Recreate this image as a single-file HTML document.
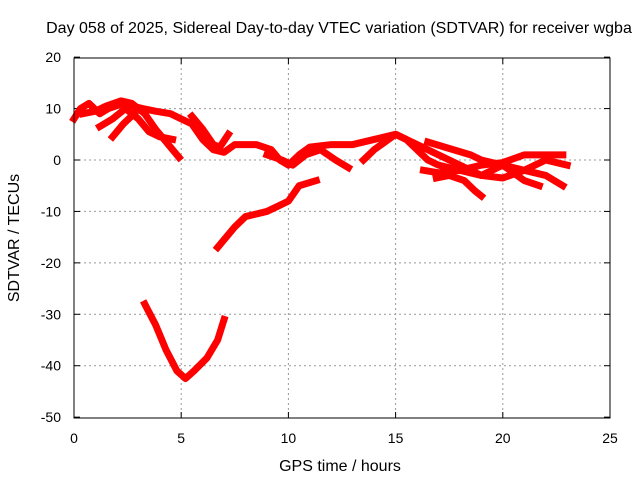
<!DOCTYPE html>
<html><head><meta charset="utf-8"><style>
body{margin:0;background:#fff;font-family:"Liberation Sans",sans-serif;}
svg text{font-family:"Liberation Sans",sans-serif;font-size:14px;fill:#000;}
svg text.big{font-size:16px;}
</style></head><body>
<svg id="c" width="640" height="480">
<text class="big" x="339" y="33" text-anchor="middle">Day 058 of 2025, Sidereal Day-to-day VTEC variation (SDTVAR) for receiver wgba</text>
<text class="big" x="340" y="471" text-anchor="middle">GPS time / hours</text>
<text class="big" transform="translate(19,238) rotate(-90)" text-anchor="middle">SDTVAR / TECUs</text>
<g id="grid"></g><g id="ticks"></g><g id="marks"></g>
<rect x="74" y="58" width="536" height="360" fill="none" stroke="#000" stroke-width="1"/>
</svg>
<script>
const xTicks=[0,5,10,15,20,25];
const yTicks=[20,10,0,-10,-20,-30,-40,-50];
const trackA=[[0,8],[0.3,10],[0.7,11],[1.2,9],[1.6,10],[2.3,11],[2.7,10.5],[3.2,10],[3.8,9.5],[4.5,9],[5,8],[5.5,7],[6,4],[6.5,2],[7,1.5],[7.5,3],[8.5,3],[9.2,2],[9.6,0],[10,-1],[10.5,1],[11,2.5],[12,3],[13,3],[14,4],[15,5],[15.5,4],[16,2],[16.5,0],[17,-1],[18,-2],[19,-3],[20,-1],[21,-2],[22,0],[23,-1]];
const trackB=[[0.4,9],[1,9.5],[1.5,10.5],[2.2,11.5],[2.7,11],[3.3,9],[3.8,6],[4.2,4],[4.6,2],[4.9,0.5]];
const trackC=[[1.2,6.5],[1.8,8],[2.4,10],[3,8],[3.5,5.5],[4,4.5],[4.6,4]];
const trackD=[[1.8,4.5],[2.3,7],[2.8,9]];
const trackE=[[5.5,8.5],[6,6],[6.5,3],[6.8,2.5],[7.2,5]];
const trackF=[[9,1],[9.7,0],[10.2,-1],[10.8,1],[11.5,2],[12.2,0],[12.8,-1.5]];
const trackG=[[13.5,0],[14,2],[14.5,3.5],[15,5],[16,3],[17,1],[18,-1],[19,-3],[20,-3.5],[21,-2],[22,-3],[22.8,-5]];
const trackH=[[16.3,-2],[17,-2.5],[18,-2],[19,-1],[20,-0.5],[21,1],[22,1],[22.8,1]];
const trackI=[[16.5,3.5],[17.7,2],[18.5,1],[19,0],[20,-1],[21,-4],[21.7,-5]];
const trackJ=[[16.9,-3.5],[17.5,-3],[18.2,-4],[18.7,-6],[19,-7]];
const trackK=[[6.7,-17],[7.5,-13],[8,-11],[9,-10],[9.5,-9],[10,-8],[10.5,-5],[11.3,-4]];
const trackL=[[3.3,-28],[3.8,-32],[4.3,-37],[4.8,-41],[5.2,-42.5],[5.6,-41],[6.2,-38.5],[6.7,-35],[7,-31]];
const tracks=[trackA,trackB,trackC,trackD,trackE,trackF,trackG,trackH,trackI,trackJ,trackK,trackL];
const X=v=>74+v*536/25, Y=v=>160-v*360/70;
const NS='http://www.w3.org/2000/svg';
const grid=document.getElementById('grid'),ticks=document.getElementById('ticks'),marks=document.getElementById('marks');
function mk(t,a,p){const e=document.createElementNS(NS,t);for(const k in a)e.setAttribute(k,a[k]);p.appendChild(e);return e;}
xTicks.forEach(t=>{
 if(t>0&&t<25){const g=mk('line',{x1:X(t),x2:X(t),y1:58,y2:418,stroke:'#999','stroke-dasharray':'2,3'},grid);
 
 }
 mk('line',{x1:X(t),x2:X(t),y1:418,y2:412,stroke:'#000'},ticks);
 mk('line',{x1:X(t),x2:X(t),y1:58,y2:64,stroke:'#000'},ticks);
 const l=mk('text',{x:X(t),y:443,'text-anchor':'middle'},ticks);l.textContent=t;
 
 
});
yTicks.forEach(t=>{
 if(t<20&&t>-50){const g=mk('line',{x1:74,x2:610,y1:Y(t),y2:Y(t),stroke:'#999','stroke-dasharray':'2,3'},grid);
 
 }
 mk('line',{x1:74,x2:80,y1:Y(t),y2:Y(t),stroke:'#000'},ticks);
 mk('line',{x1:610,x2:604,y1:Y(t),y2:Y(t),stroke:'#000'},ticks);
 const l=mk('text',{x:61,y:Y(t)+5,'text-anchor':'end'},ticks);l.textContent=t;
 
 
});
tracks.forEach((tr,i)=>{
 const p=mk('polyline',{points:tr.map(d=>X(d[0])+','+Y(d[1])).join(' '),fill:'none',stroke:'#f00','stroke-width':7,'stroke-linejoin':'round','stroke-linecap':'square'},marks);
 
 
});
</script>
</body></html>
